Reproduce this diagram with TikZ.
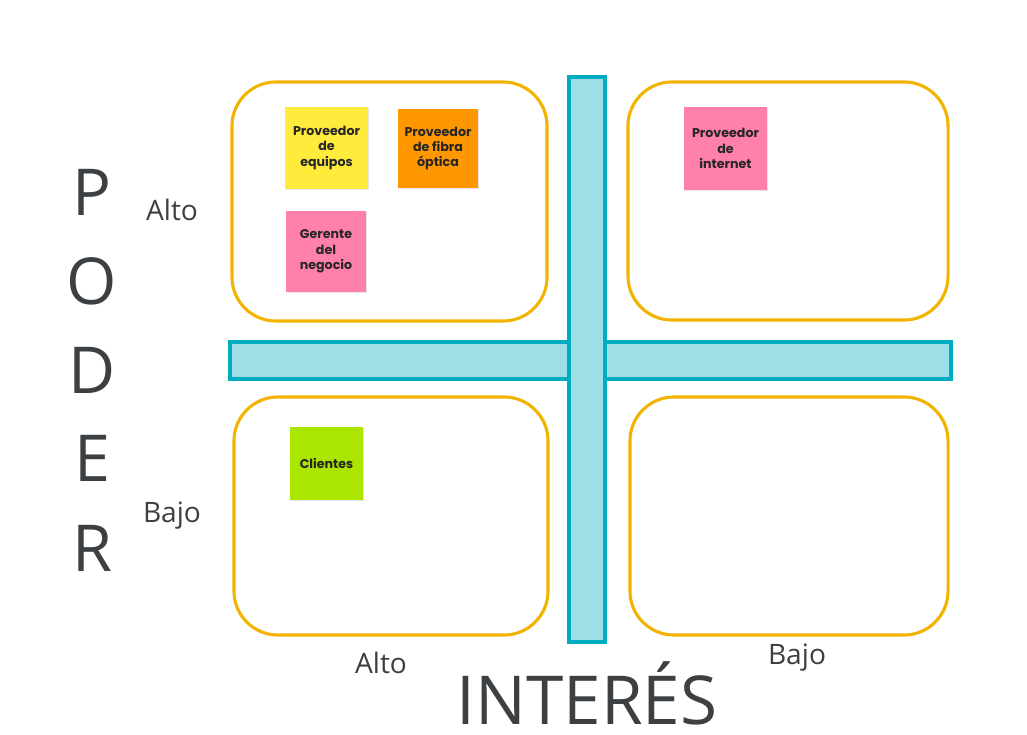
\documentclass[tikz,border=0pt]{standalone}
\usepackage{fontspec}
\setmainfont{Open Sans}
\newfontfamily\notefont{Poppins}
\usetikzlibrary{shadows,positioning}
\definecolor{quadline}{RGB}{242,180,0}
\definecolor{barline}{RGB}{0,172,193}
\definecolor{barfill}{RGB}{158,222,230}
\definecolor{axisgray}{RGB}{60,64,67}
\definecolor{noteyellow}{RGB}{255,235,59}
\definecolor{noteorange}{RGB}{255,152,0}
\definecolor{notepink}{RGB}{255,128,171}
\definecolor{notegreen}{RGB}{170,230,0}

\begin{document}
\begin{tikzpicture}[
  x=0.025cm, y=-0.025cm,
  quad/.style={rectangle, draw=quadline, line width=2.2pt, rounded corners=1.1cm, fill=white},
  bar/.style={rectangle, draw=barline, fill=barfill, line width=2.5pt},
  note/.style={rectangle, align=center, text=black!85,
    font=\notefont\bfseries\fontsize{9}{11}\selectfont,
    drop shadow={opacity=0.2, shadow xshift=0.4pt, shadow yshift=-1pt}},
  letter/.style={text=axisgray, font=\fontsize{46}{50}\selectfont},
  level/.style={text=axisgray, font=\fontsize{20}{24}\selectfont}
]
\useasboundingbox (0,0) rectangle (1027,735);

% cuadrantes
\node[quad, minimum width=7.875cm, minimum height=5.975cm] (altoalto) at (389.5,201.5) {};
\node[quad, minimum width=8cm, minimum height=5.95cm] (altobajo) at (788,201) {};
\node[quad, minimum width=7.85cm, minimum height=5.95cm] (bajoalto) at (391,516) {};
\node[quad, minimum width=7.95cm, minimum height=5.95cm] (bajobajo) at (789,516) {};

% ejes
\node[bar, minimum width=18.025cm, minimum height=0.925cm] (hbar) at (590.5,360.5) {};
\node[bar, minimum width=0.9cm, minimum height=14.125cm] (vbar) at (587,359.5) {};

% notas
\node[note, fill=noteyellow, minimum width=2.075cm, minimum height=2.05cm] (equipos) at (326.5,148) {Proveedor\\de\\equipos};
\node[note, fill=noteorange, minimum width=2cm, minimum height=1.975cm] (fibra) at (438,148.5) {Proveedor\\de fibra\\óptica};
\node[note, fill=notepink, minimum width=2cm, minimum height=2.025cm] (gerente) at (326,251.5) {Gerente\\del\\negocio};
\node[note, fill=notepink, minimum width=2.075cm, minimum height=2.075cm] (internet) at (725.5,148.5) {Proveedor\\de\\internet};
\node[note, fill=notegreen, minimum width=1.825cm, minimum height=1.825cm] (clientes) at (326.5,463.5) {Clientes};

% PODER
\node[letter] (p) at (92,192) {P};
\node[letter] (o) at (92,281) {O};
\node[letter] (d) at (92,370) {D};
\node[letter] (e) at (92,458) {E};
\node[letter] (r) at (92,548) {R};

% niveles
\node[level] (poderalto) at (172,210) {Alto};
\node[level] (poderbajo) at (172,516) {Bajo};
\node[level] (interesalto) at (381,663) {Alto};
\node[level] (interesbajo) at (797,658) {Bajo};

\node[text=axisgray, inner sep=0pt, anchor=base, font=\fontsize{48}{52}\selectfont] (interes) at (587,724) {INTERÉS};
\end{tikzpicture}
\end{document}
